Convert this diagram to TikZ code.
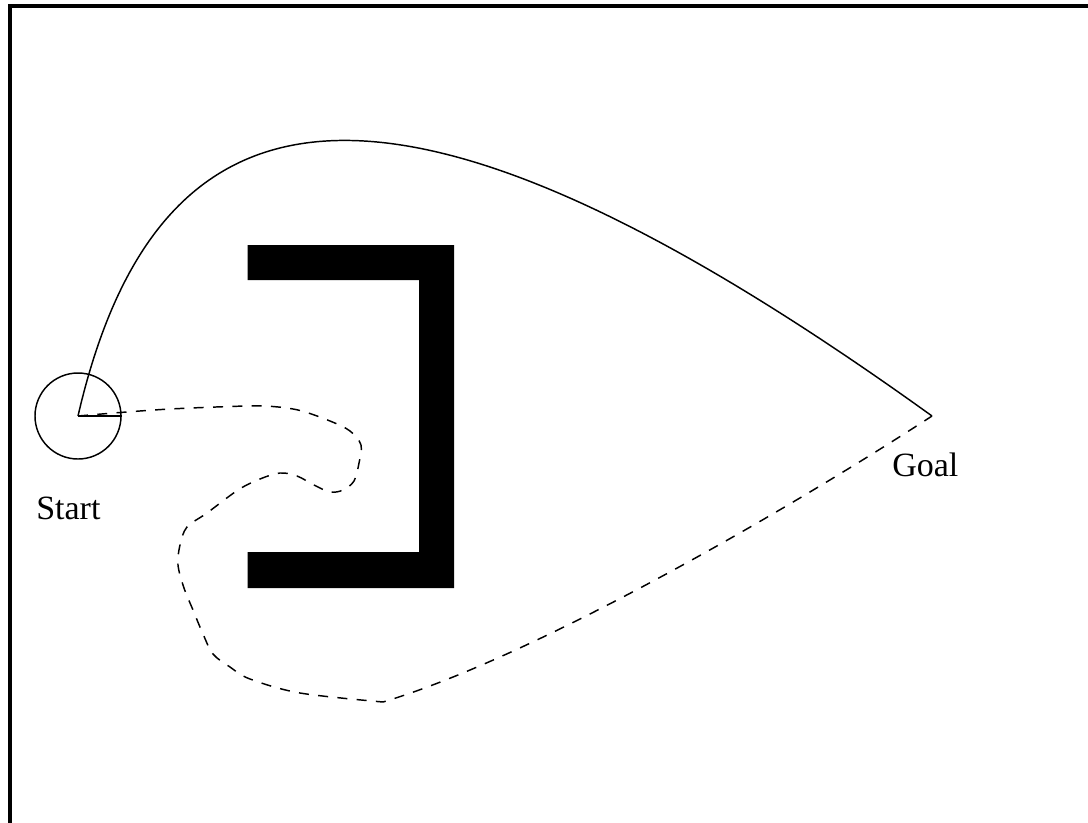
\documentclass[tikz,border=0pt]{standalone}
\usepackage{fontspec}
\setmainfont{Liberation Serif}
\begin{document}
\begin{tikzpicture}[x=0.75pt,y=-0.75pt,
  thin line/.style={line width=1.1pt},
  dashline/.style={line width=1.1pt, dash pattern=on 7.5pt off 7pt},
  label text/.style={font=\fontsize{25.5}{30}\selectfont, inner sep=0pt, anchor=base west},
  obstacle/.style={fill=black, draw=none}]
\useasboundingbox (0,0) rectangle (1088,822);
% frame (runs past the right and bottom edges)
\draw[line width=2.6pt] (9.8,900) -- (9.8,6.2) -- (1200,6.2);
% obstacle
\fill[obstacle] (247.7,245) -- (454,245) -- (454,588) -- (247.7,588) -- (247.7,552)
  -- (419,552) -- (419,280) -- (247.7,280) -- cycle;
% start and goal
\coordinate (s) at (78,416);
\coordinate (g) at (932,416);
\node[draw, circle, thin line, minimum size=64.5pt, inner sep=0pt] (startc) at (s) {};
\draw[thin line] (s) -- (startc.east);
\node[label text] (startlbl) at (36,519) {Start};
\node[label text] (goallbl) at (892,476) {Goal};
% solid path
\draw[thin line] (s) .. controls (159,65) and (399,32.5) .. (g);
% dashed path
\draw[dashline, line join=round] plot[smooth, tension=0.55] coordinates {
  (s) (120,412.5) (170,409) (230,406.5) (265,406) (298,410) (330,421) (350,431)
  (361,445) (359,463) (354,481) (343,490) (330,492) (314,485) (297,476) (280,473)
  (260,479) (238,490) (207,513) (187,527) (180,545) (178,565) (184,588) (193,610)
  (203,634) (213,654) (230,667) (250,679) (300,693) (383,702)}
  .. controls (533,657) and (782,513.5) .. (g);
\end{tikzpicture}
\end{document}
